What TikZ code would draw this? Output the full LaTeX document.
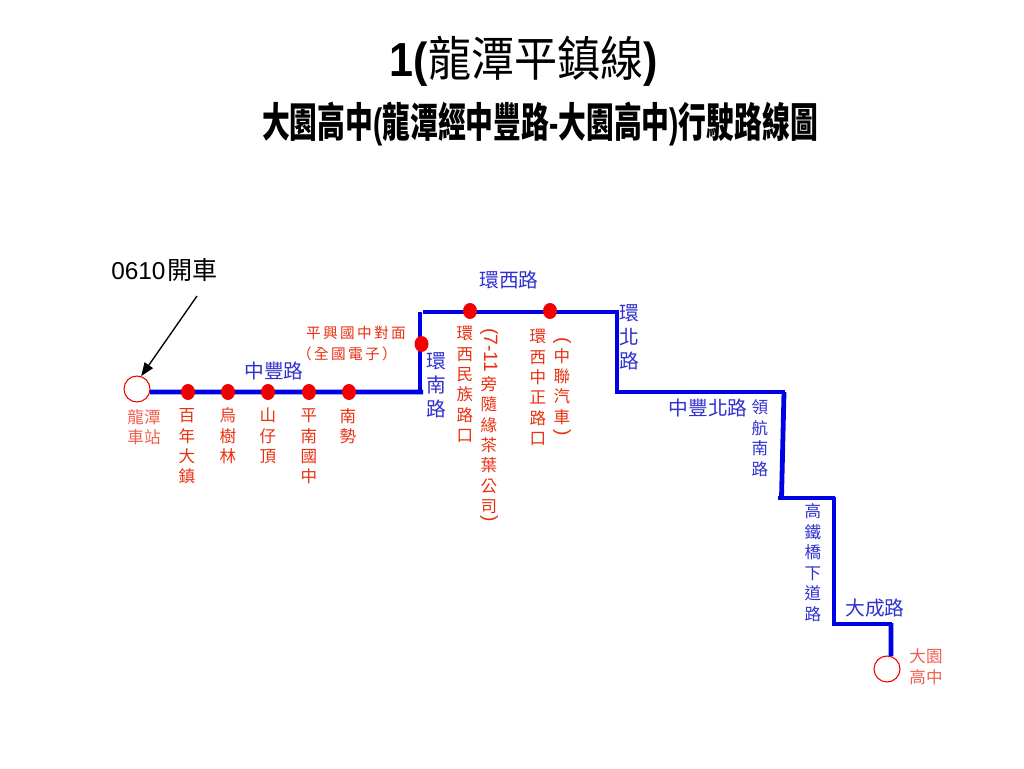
\documentclass[tikz,border=0pt]{standalone}
\usepackage{fontspec}
\setmainfont{Liberation Sans}
\newfontfamily\cjk{Noto Sans CJK TC}
\usetikzlibrary{arrows.meta,shapes.geometric}
\definecolor{routeblue}{HTML}{0000E6}
\definecolor{roadblue}{HTML}{3030D0}
\definecolor{stopred}{HTML}{F00000}
\definecolor{stoptext}{HTML}{E83010}
\definecolor{termtext}{HTML}{F06050}
\tikzset{
  route/.style={draw=routeblue,line width=3.6pt,line cap=butt,line join=miter},
  stopdot/.style={ellipse,fill=stopred,minimum width=10.5pt,minimum height=12pt,inner sep=0pt},
  term/.style={circle,draw=stopred,fill=white,line width=0.8pt,minimum size=19.5pt,inner sep=0pt},
  road/.style={text=roadblue,inner sep=0pt,font=\cjk\fontsize{14.8}{18}\selectfont},
  roadcol/.style={text=roadblue,inner sep=0pt,align=center,font=\cjk\fontsize{14.8}{17.8}\selectfont},
  roadcols/.style={text=roadblue,inner sep=0pt,align=center,font=\cjk\fontsize{12.4}{15.4}\selectfont},
  stopcol/.style={text=stoptext,inner sep=0pt,align=center,font=\cjk\fontsize{12.4}{15.3}\selectfont},
  termcol/.style={text=termtext,inner sep=0pt,align=center,font=\cjk\fontsize{12.4}{15.4}\selectfont},
  stoprow/.style={text=stoptext,inner sep=0pt,font=\cjk\fontsize{11}{12}\selectfont\addfontfeatures{LetterSpace=16}},
  vparen/.style={text=stoptext,inner sep=0pt,rotate=-90,font=\fontsize{14.5}{16}\selectfont},
}
\begin{document}
\begin{tikzpicture}[x=0.75pt,y=-0.75pt]
\useasboundingbox (0,0) rectangle (1024,768);
% titles
\node[inner sep=0pt] (title1) at (524,61) {\scalebox{1.01}[1.12]{\fontsize{32}{36}\selectfont{\bfseries 1(}{\cjk 龍潭平鎮線}{\bfseries )}}};
\node[inner sep=0pt] (title2) at (540,124) {\scalebox{.772}[1.14]{\fontsize{27}{30}\selectfont\bfseries {\cjk\bfseries 大園高中}({\cjk\bfseries 龍潭經中豐路}-{\cjk\bfseries 大園高中}){\cjk\bfseries 行駛路線圖}}};
% start label and terminals
\node[inner sep=0pt,anchor=west] (dep) at (111,270) {\fontsize{18.3}{22}\selectfont 0610\kern1.5pt{\cjk\fontsize{18.8}{22}\selectfont 開車}};
\node[term] (start) at (137,389) {};
\node[term] (end) at (887,669) {};
\coordinate (tail) at (197,296);
\draw[black,line width=1pt,-{Triangle[length=10pt,width=7.5pt]}] (tail) -- (start.72);
% route
\coordinate (a1) at (423,392);
\coordinate (a2) at (420,394);
\coordinate (a3) at (420,312);
\coordinate (b1) at (423,312);
\coordinate (b2) at (617,312);
\coordinate (b3) at (617,392);
\coordinate (b4) at (785,392);
\coordinate (b5) at (784,392);
\coordinate (b6) at (781.5,498);
\coordinate (c1) at (778,498);
\coordinate (c2) at (835,498);
\coordinate (c3) at (834,497);
\coordinate (c4) at (834,624);
\coordinate (c5) at (892,624);
\coordinate (c6) at (891,623);
\draw[route] (start.-13) -- (a1);
\draw[route] (a2) -- (a3);
\draw[route] (b1) -- (b2) -- (b3) -- (b4);
\draw[route] (b5) -- (b6);
\draw[route] (c1) -- (c2);
\draw[route] (c3) -- (c4) -- (c5);
\draw[route] (c6) -- (end.73);
% stops
\node[stopdot] (s1) at (188,392) {};
\node[stopdot] (s2) at (228,392) {};
\node[stopdot] (s3) at (268,392) {};
\node[stopdot] (s4) at (309,392) {};
\node[stopdot] (s5) at (349,392) {};
\node[stopdot] (s6) at (421.5,344) {};
\node[stopdot] (s7) at (470,311) {};
\node[stopdot] (s8) at (550,311) {};
% road labels
\node[road] (r1) at (274,371) {中豐路};
\node[road] (r2) at (509,280) {環西路};
\node[road] (r3) at (708,408) {中豐北路};
\node[road] (r4) at (875,608) {大成路};
\node[roadcol] (r5) at (436,385.5) {環\\南\\路};
\node[roadcol] (r6) at (629,337.5) {環\\北\\路};
\node[roadcols] (r7) at (760,438) {領\\航\\南\\路};
\node[roadcols] (r8) at (813,562.5) {高\\鐵\\橋\\下\\道\\路};
% stop labels
\node[termcol] (t1) at (144,427) {龍潭\\車站};
\node[termcol] (t2) at (926,666.5) {大園\\高中};
\node[stopcol] (l1) at (187,446.5) {百\\年\\大\\鎮};
\node[stopcol] (l2) at (228,436) {烏\\樹\\林};
\node[stopcol] (l3) at (268,436) {山\\仔\\頂};
\node[stopcol] (l4) at (309,446.5) {平\\南\\國\\中};
\node[stopcol] (l5) at (348,426) {南\\勢};
\node[stoprow] (l6) at (356,333) {平興國中對面};
\node[stoprow] (l7) at (347,354) {（全國電子）};
\node[stopcol] (l8) at (465,384.5) {環\\西\\民\\族\\路\\口};
\node[vparen] (l9) at (489,350) {(7-11};
\node[stopcol] (l10) at (489,445) {旁\\隨\\緣\\茶\\葉\\公\\司};
\node[vparen] (l11) at (489,519) {)};
\node[stopcol] (l12) at (538,387.5) {環\\西\\中\\正\\路\\口};
\node[vparen] (l13) at (562,341) {(};
\node[stopcol] (l14) at (562,386.5) {中\\聯\\汽\\車};
\node[vparen] (l15) at (562,433) {)};
\end{tikzpicture}
\end{document}
